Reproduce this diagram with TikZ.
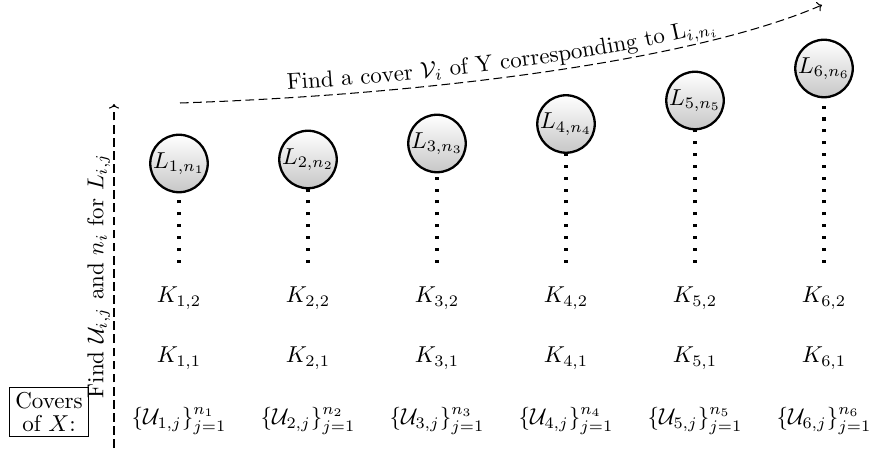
\documentclass[tikz,border=0pt]{standalone}
\usepackage{tikz}
\usetikzlibrary{arrows.meta,decorations.text}
\tikzset{
  cover/.style={draw, line width=0.6pt, align=center, inner xsep=2.6pt, inner ysep=2pt},
  knode/.style={inner sep=3.33pt},
  lnode/.style={circle, draw, line width=1pt, top color=white, bottom color=black!22,
                minimum size=25pt, inner sep=0pt},
  dotline/.style={line width=1.35pt, dash pattern=on 1.35pt off 3.8pt, shorten <=7pt},
  dasharrow/.style={-{To[length=2pt,width=4.4pt]}, dash pattern=on 3.8pt off 1.9pt, line width=0.45pt},
}

\begin{document}
\begin{tikzpicture}[x=0.435pt, y=-0.435pt]
  \useasboundingbox (0,0) rectangle (870,452);

  % circles on top of each column
  \node[lnode] (L1) at (179,163.5) {$L_{1,n_1}$};
  \node[lnode] (L2) at (308,159.5) {$L_{2,n_2}$};
  \node[lnode] (L3) at (437,143.5) {$L_{3,n_3}$};
  \node[lnode] (L4) at (566,124) {$L_{4,n_4}$};
  \node[lnode] (L5) at (695,100.5) {$L_{5,n_5}$};
  \node[lnode] (L6) at (824,68.5) {$L_{6,n_6}$};

  % second row
  \node[knode] (K12) at (179,298) {$K_{1,2}$};
  \node[knode] (K22) at (308,298) {$K_{2,2}$};
  \node[knode] (K32) at (437,298) {$K_{3,2}$};
  \node[knode] (K42) at (566,298) {$K_{4,2}$};
  \node[knode] (K52) at (695,298) {$K_{5,2}$};
  \node[knode] (K62) at (824,298) {$K_{6,2}$};

  % first row
  \node[knode] (K11) at (179,358) {$K_{1,1}$};
  \node[knode] (K21) at (308,358) {$K_{2,1}$};
  \node[knode] (K31) at (437,358) {$K_{3,1}$};
  \node[knode] (K41) at (566,358) {$K_{4,1}$};
  \node[knode] (K51) at (695,358) {$K_{5,1}$};
  \node[knode] (K61) at (824,358) {$K_{6,1}$};

  % covers
  \node[cover] (covers) at (49,412) {Covers\\[-1.6pt]of $X$:};
  \node (U1) at (179,421) {$\{\mathcal{U}_{1,j}\}_{j=1}^{n_1}$};
  \node (U2) at (308,421) {$\{\mathcal{U}_{2,j}\}_{j=1}^{n_2}$};
  \node (U3) at (437,421) {$\{\mathcal{U}_{3,j}\}_{j=1}^{n_3}$};
  \node (U4) at (566,421) {$\{\mathcal{U}_{4,j}\}_{j=1}^{n_4}$};
  \node (U5) at (695,421) {$\{\mathcal{U}_{5,j}\}_{j=1}^{n_5}$};
  \node (U6) at (824,421) {$\{\mathcal{U}_{6,j}\}_{j=1}^{n_6}$};

  \draw[dotline] (K12.north) -- (L1.south);
  \draw[dotline] (K22.north) -- (L2.south);
  \draw[dotline] (K32.north) -- (L3.south);
  \draw[dotline] (K42.north) -- (L4.south);
  \draw[dotline] (K52.north) -- (L5.south);
  \draw[dotline] (K62.north) -- (L6.south);

  % the two search arrows
  \coordinate (ubot) at (114,448);
  \coordinate (utop) at (114,104);
  \draw[dasharrow] (ubot) -- node[midway, above, sloped, inner sep=1.5pt] {Find $\mathcal{U}_{i,j}$ and $n_i$ for $L_{i,j}$} (utop);

  \coordinate (vstart) at (180,103);
  \coordinate (vend) at (822,5);
  \draw[dasharrow, postaction={decorate, decoration={text along path, text align=center, raise=3.5pt,
        text={Find a cover ${\mathcal{V}_i}$ of Y corresponding to L${_{i,n_i}}$}}}]
    (vstart) .. controls (420,95) and (690,62) .. (vend);
\end{tikzpicture}
\end{document}
